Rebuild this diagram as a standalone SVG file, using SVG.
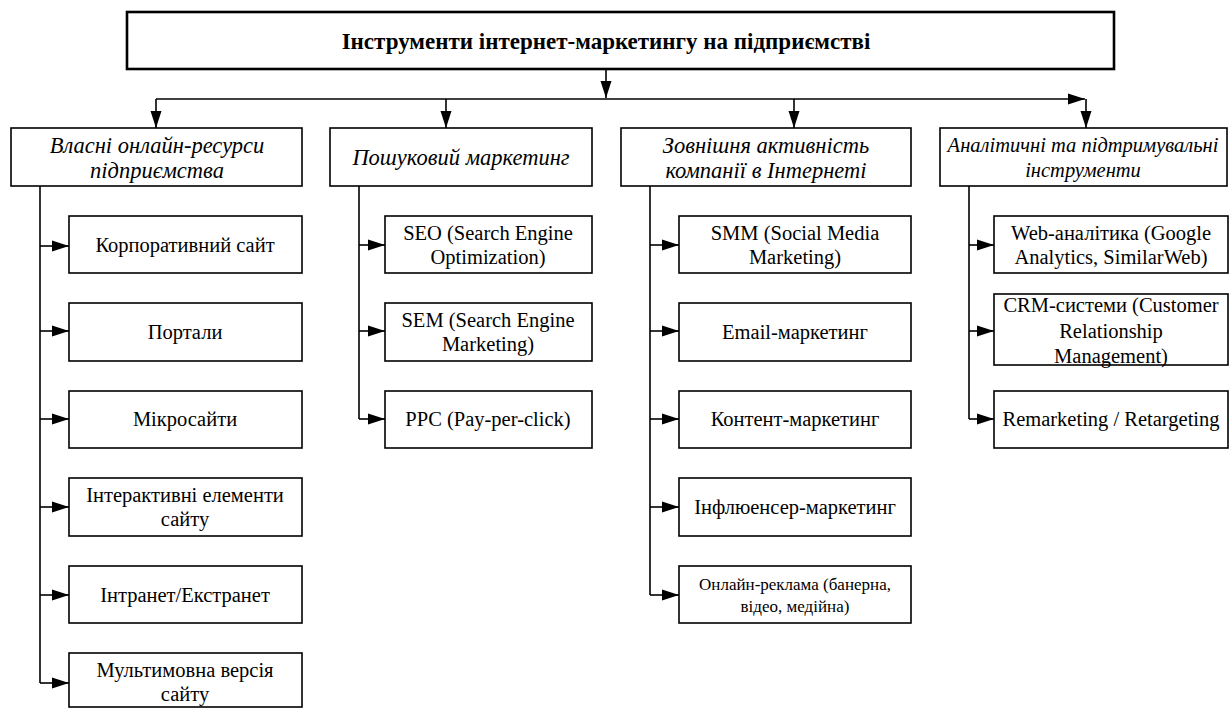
<svg xmlns="http://www.w3.org/2000/svg" width="1232" height="709" viewBox="0 0 1232 709">
<style>
.box{fill:#fff;stroke:#000;stroke-width:1.6}
.title{fill:#fff;stroke:#000;stroke-width:2.6}
text{font-family:'Liberation Serif','Times New Roman',serif;font-size:20.5px;fill:#000;text-anchor:middle;dominant-baseline:central}
.h{font-style:italic;font-size:22.5px}
.h4{font-size:20.5px}
.b{font-weight:bold;font-size:23px}
.s{font-size:17px}
.c{fill:none;stroke:#000;stroke-width:1.6}
</style>
<defs>
<marker id="ah" markerUnits="userSpaceOnUse" markerWidth="18" markerHeight="14" refX="17" refY="6" orient="auto">
<path d="M0,0.5 L17,6 L0,11.5 Z" fill="#000"/>
</marker>
</defs>
<g id="connectors">
<path class="c" d="M606,69 V98" marker-end="url(#ah)"/>
<path class="c" d="M156,99 H1085" marker-end="url(#ah)"/>
<path class="c" d="M156,99 V128" marker-end="url(#ah)"/>
<path class="c" d="M446,99 V128" marker-end="url(#ah)"/>
<path class="c" d="M794,99 V128" marker-end="url(#ah)"/>
<path class="c" d="M1086,99 V128" marker-end="url(#ah)"/>
<path class="c" d="M40,186 V683"/>
<path class="c" d="M40,246 H69" marker-end="url(#ah)"/>
<path class="c" d="M40,331 H69" marker-end="url(#ah)"/>
<path class="c" d="M40,419 H69" marker-end="url(#ah)"/>
<path class="c" d="M40,507 H69" marker-end="url(#ah)"/>
<path class="c" d="M40,595 H69" marker-end="url(#ah)"/>
<path class="c" d="M40,683 H69" marker-end="url(#ah)"/>
<path class="c" d="M359,186 V419"/>
<path class="c" d="M359,245 H385" marker-end="url(#ah)"/>
<path class="c" d="M359,331 H385" marker-end="url(#ah)"/>
<path class="c" d="M359,419 H385" marker-end="url(#ah)"/>
<path class="c" d="M650,186 V595"/>
<path class="c" d="M650,245 H679" marker-end="url(#ah)"/>
<path class="c" d="M650,331 H679" marker-end="url(#ah)"/>
<path class="c" d="M650,419 H679" marker-end="url(#ah)"/>
<path class="c" d="M650,507 H679" marker-end="url(#ah)"/>
<path class="c" d="M650,595 H679" marker-end="url(#ah)"/>
<path class="c" d="M969,186 V419"/>
<path class="c" d="M969,245 H994" marker-end="url(#ah)"/>
<path class="c" d="M969,331 H994" marker-end="url(#ah)"/>
<path class="c" d="M969,419 H994" marker-end="url(#ah)"/>
</g>
<g id="root">
<rect class="title" x="127" y="12" width="987" height="57"/>
<text class="b" x="606" y="41">Інструменти інтернет-маркетингу на підприємстві</text>
</g>
<g id="h1">
<rect class="box" x="11" y="128" width="291" height="58"/>
<text class="h" x="157" y="145">Власні онлайн-ресурси</text>
<text class="h" x="157" y="170">підприємства</text>
</g>
<g id="h2">
<rect class="box" x="330" y="128" width="262" height="58"/>
<text class="h" x="461" y="157">Пошуковий маркетинг</text>
</g>
<g id="h3">
<rect class="box" x="621" y="128" width="290" height="58"/>
<text class="h" x="766" y="145">Зовнішня активність</text>
<text class="h" x="766" y="170">компанії в Інтернеті</text>
</g>
<g id="h4">
<rect class="box" x="940" y="128" width="287" height="58"/>
<text class="h h4" x="1083" y="145">Аналітичні та підтримувальні</text>
<text class="h h4" x="1083" y="170">інструменти</text>
</g>
<g id="n1a"><rect class="box" x="69" y="216" width="233" height="57"/><text x="185" y="245">Корпоративний сайт</text></g>
<g id="n1b"><rect class="box" x="69" y="303" width="233" height="58"/><text x="185" y="332">Портали</text></g>
<g id="n1c"><rect class="box" x="69" y="391" width="233" height="57"/><text x="185" y="419">Мікросайти</text></g>
<g id="n1d"><rect class="box" x="69" y="478" width="233" height="58"/><text x="185" y="495">Інтерактивні елементи</text><text x="185" y="519">сайту</text></g>
<g id="n1e"><rect class="box" x="69" y="566" width="233" height="57"/><text x="185" y="595">Інтранет/Екстранет</text></g>
<g id="n1f"><rect class="box" x="69" y="653" width="233" height="54"/><text x="185" y="670">Мультимовна версія</text><text x="185" y="694">сайту</text></g>
<g id="n2a"><rect class="box" x="385" y="216" width="207" height="57"/><text x="488" y="233">SEO (Search Engine</text><text x="488" y="257">Optimization)</text></g>
<g id="n2b"><rect class="box" x="385" y="303" width="207" height="58"/><text x="488" y="320">SEM (Search Engine</text><text x="488" y="344">Marketing)</text></g>
<g id="n2c"><rect class="box" x="385" y="391" width="207" height="57"/><text x="488" y="419">PPC (Pay-per-click)</text></g>
<g id="n3a"><rect class="box" x="679" y="216" width="232" height="57"/><text x="795" y="233">SMM (Social Media</text><text x="795" y="257">Marketing)</text></g>
<g id="n3b"><rect class="box" x="679" y="303" width="232" height="58"/><text x="795" y="332">Email-маркетинг</text></g>
<g id="n3c"><rect class="box" x="679" y="391" width="232" height="57"/><text x="795" y="419">Контент-маркетинг</text></g>
<g id="n3d"><rect class="box" x="679" y="478" width="232" height="58"/><text x="795" y="507">Інфлюенсер-маркетинг</text></g>
<g id="n3e"><rect class="box" x="679" y="566" width="232" height="57"/><text class="s" x="795" y="584">Онлайн-реклама (банерна,</text><text class="s" x="795" y="606">відео, медійна)</text></g>
<g id="n4a"><rect class="box" x="994" y="216" width="234" height="57"/><text x="1111" y="233">Web-аналітика (Google</text><text x="1111" y="257">Analytics, SimilarWeb)</text></g>
<g id="n4b"><rect class="box" x="994" y="294" width="234" height="71"/><text x="1111" y="305">CRM-системи (Customer</text><text x="1111" y="331">Relationship</text><text x="1111" y="356">Management)</text></g>
<g id="n4c"><rect class="box" x="994" y="391" width="234" height="57"/><text x="1111" y="419">Remarketing / Retargeting</text></g>
</svg>
